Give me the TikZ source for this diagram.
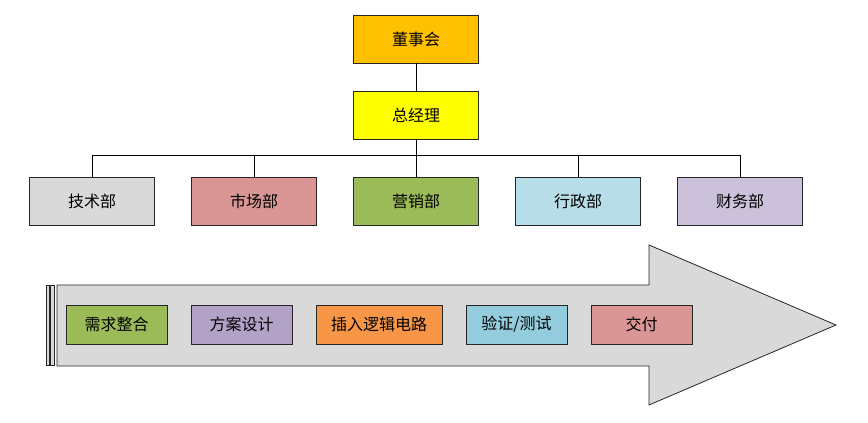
\documentclass[tikz,border=0pt]{standalone}
\usepackage{fontspec}
\setmainfont{Noto Sans CJK SC}
\usetikzlibrary{positioning}
\definecolor{boardc}{HTML}{FFC000}
\definecolor{gmc}{HTML}{FFFF00}
\definecolor{greyc}{HTML}{D9D9D9}
\definecolor{redc}{HTML}{D99694}
\definecolor{greenc}{HTML}{9BBB59}
\definecolor{bluec}{HTML}{B7DEE8}
\definecolor{lilac}{HTML}{CCC1DA}
\definecolor{purplec}{HTML}{B3A2C7}
\definecolor{orangec}{HTML}{F79646}
\definecolor{cyanc}{HTML}{93CDDD}

\begin{document}
\begin{tikzpicture}[x=1pt, y=-1pt, font=\fontsize{16}{19}\selectfont,
    box/.style={draw=black!85, line width=1pt, minimum width=125pt, minimum height=48pt, inner sep=2pt, outer sep=0pt},
    stage/.style={draw=black!85, line width=1pt, minimum width=101pt, minimum height=39pt, inner sep=2pt, outer sep=0pt}]
    \useasboundingbox (0,0) rectangle (868,423);

    \node[box, fill=boardc] (board) at (416,39) {董事会};
    \node[box, fill=gmc, below=28pt of board] (gm) {总经理};

    \node[box, fill=greyc] (tech) at (92,201) {技术部};
    \node[box, fill=redc, right=37pt of tech] (market) {市场部};
    \node[box, fill=greenc, right=37pt of market] (sales) {营销部};
    \node[box, fill=bluec, right=37pt of sales] (admin) {行政部};
    \node[box, fill=lilac, right=37pt of admin] (finance) {财务部};

    \coordinate (bus) at (416,155);
    \draw[line width=1pt] (board) -- (gm);
    \draw[line width=1pt] (gm) -- (bus);
    \draw[line width=1pt] (tech.north) -- (tech.north |- bus) -- (finance.north |- bus) -- (finance.north);
    \foreach \d in {market, sales, admin}
        \draw[line width=1pt] (\d.north) -- (\d.north |- bus);

    % process arrow
    \draw[fill=greyc, draw=black!85, line width=0.8pt] (57,285) -- (649,285) -- (649,245) -- (836,325) -- (649,405) -- (649,366) -- (57,366) -- cycle;
    \draw[fill=greyc, draw=black!85, line width=0.8pt] (46,285.5) rectangle (49.5,365.5);
    \draw[fill=greyc, draw=black!85, line width=0.8pt] (50.5,285.5) rectangle (54,365.5);

    \node[stage, fill=greenc] (req) at (116.5,324.5) {需求整合};
    \node[stage, fill=purplec, right=24pt of req] (plan) {方案设计};
    \node[stage, fill=orangec, minimum width=126pt, right=24pt of plan] (logic) {插入逻辑电路};
    \node[stage, fill=cyanc, right=24pt of logic] (test) {验证/测试};
    \node[stage, fill=redc, right=24pt of test] (deliver) {交付};
\end{tikzpicture}
\end{document}
